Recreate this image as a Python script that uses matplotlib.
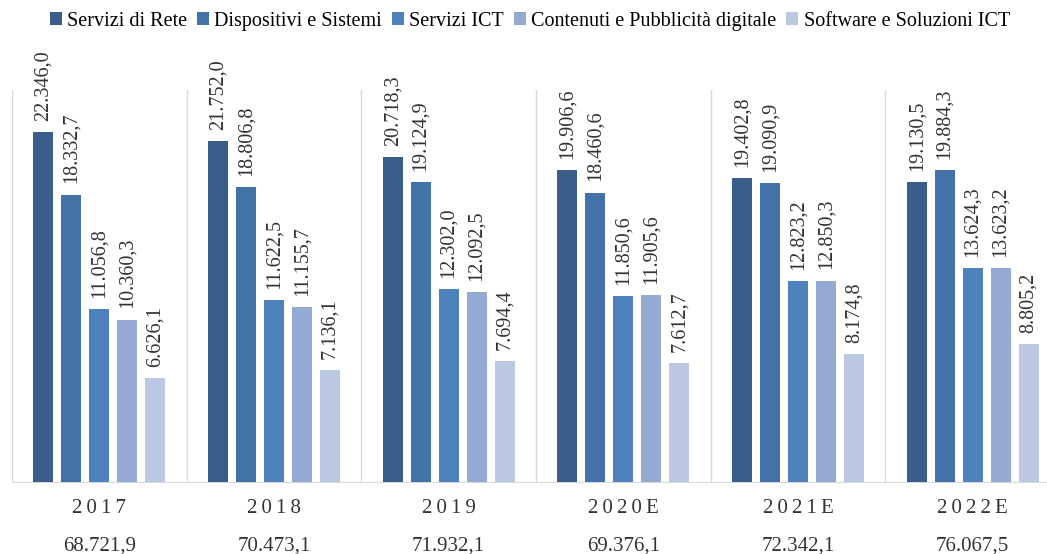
import numpy as np
import matplotlib.pyplot as plt
from matplotlib.transforms import blended_transform_factory

plt.rcParams['font.family'] = ['Liberation Serif', 'DejaVu Serif']

anni = ['2017', '2018', '2019', '2020E', '2021E', '2022E']
totali = ['68.721,9', '70.473,1', '71.932,1', '69.376,1', '72.342,1', '76.067,5']

serie = ['Servizi di Rete', 'Dispositivi e Sistemi', 'Servizi ICT',
         'Contenuti e Pubblicità digitale', 'Software e Soluzioni ICT']
servizi_rete = [22346.0, 21752.0, 20718.3, 19906.6, 19402.8, 19130.5]
dispositivi = [18332.7, 18806.8, 19124.9, 18460.6, 19090.9, 19884.3]
servizi_ict = [11056.8, 11622.5, 12302.0, 11850.6, 12823.2, 13624.3]
contenuti = [10360.3, 11155.7, 12092.5, 11905.6, 12850.3, 13623.2]
software = [6626.1, 7136.1, 7694.4, 7612.7, 8174.8, 8805.2]

colori = ['#3A5E8C', '#4372A8', '#4F81BD', '#95AAD3', '#BBC8E2']

valori = [servizi_rete, dispositivi, servizi_ict, contenuti, software]


def fmt(v):
    s = '{:,.1f}'.format(v)
    return s.replace(',', 'X').replace('.', ',').replace('X', '.')


fig = plt.figure(figsize=(10.47, 5.54), dpi=100)
# area del grafico (l'ultimo gruppo esce dal bordo destro)
ax = fig.add_axes([12 / 1047, 72 / 554, 1048 / 1047, 392 / 554])

x = np.arange(len(anni))
larg = 0.115
passo = 0.16
for i, (nome, vals) in enumerate(zip(serie, valori)):
    pos = x + (i - 2) * passo
    bars = ax.bar(pos, vals, width=larg, color=colori[i], label=nome, zorder=3)
    for b, v in zip(bars, vals):
        ax.annotate(fmt(v), (b.get_x() + b.get_width() / 2, v),
                    xytext=(0, 8), textcoords='offset points',
                    rotation=90, ha='center', va='bottom',
                    fontsize=14.5, color='#333333')

ax.set_xlim(-0.5, len(anni) - 0.5)
ax.set_ylim(0, 25000)

# separatori tra i gruppi
for s in np.arange(-0.5, len(anni), 1):
    ax.axvline(s, color='#D9D9D9', lw=1, zorder=1)

for sp in ['top', 'right', 'left']:
    ax.spines[sp].set_visible(False)
ax.spines['bottom'].set_color('#D9D9D9')
ax.set_yticks([])
ax.set_xticks([])

tr = blended_transform_factory(ax.transData, ax.transAxes)
for xi, a, t in zip(x, anni, totali):
    ax.text(xi, -0.068, '\u2009'.join(a), transform=tr, ha='center', va='center',
            fontsize=15, color='#333333')
    ax.text(xi, -0.163, t, transform=tr, ha='center', va='center',
            fontsize=15, color='#333333')

fig.legend(loc='center', bbox_to_anchor=(0.506, 0.962), ncol=5, frameon=False,
           fontsize=14.5, handlelength=0.6, handleheight=0.6, handletextpad=0.25,
           columnspacing=0.5, borderaxespad=0)

fig.savefig('out.png', dpi=100)
